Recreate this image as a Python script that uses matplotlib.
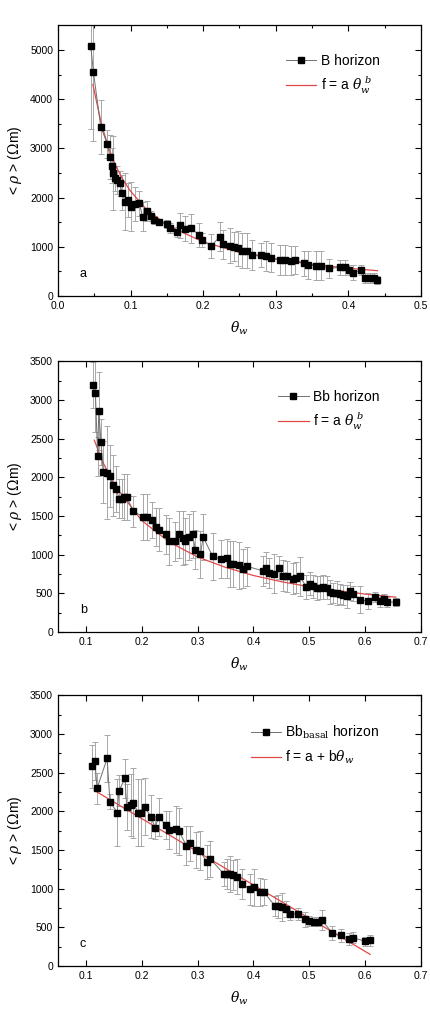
import matplotlib
matplotlib.use('Agg')
import matplotlib.pyplot as plt
import numpy as np

plt.rcParams['font.family'] = ['Liberation Sans', 'DejaVu Sans']
plt.rcParams['mathtext.fontset'] = 'dejavuserif'

# panel a: B horizon
theta_a = [0.045, 0.0487, 0.0588, 0.068, 0.0716, 0.074, 0.0762, 0.079, 0.0817, 0.0854,
           0.088, 0.0927, 0.0964, 0.101, 0.1056, 0.112, 0.1166, 0.122, 0.1276, 0.132,
           0.1387, 0.1497, 0.154, 0.164, 0.168, 0.175, 0.183, 0.1947, 0.198, 0.211,
           0.223, 0.2277, 0.237, 0.242, 0.248, 0.2534, 0.26, 0.267, 0.279, 0.287,
           0.294, 0.306, 0.313, 0.321, 0.327, 0.339, 0.345, 0.356, 0.363, 0.373,
           0.389, 0.396, 0.401, 0.407, 0.417, 0.423, 0.43, 0.436, 0.44]
rho_a = [5090, 4560, 3442, 3090, 2818, 2650, 2507, 2392, 2358, 2290,
         2100, 1917, 1951, 1816, 1870, 1884, 1612, 1734, 1626, 1545,
         1511, 1463, 1375, 1308, 1436, 1369, 1375, 1240, 1138, 1016,
         1206, 1050, 1023, 1003, 969, 921, 921, 833, 833, 813,
         779, 732, 732, 718, 732, 664, 630, 617, 617, 562,
         583, 583, 528, 474, 528, 359, 359, 359, 325]
err_a = [1700, 1420, 550, 280, 450, 350, 750, 250, 280, 250,
         350, 580, 350, 500, 350, 250, 300, 200, 100, 80,
         60, 80, 100, 100, 250, 250, 300, 250, 150, 250,
         300, 300, 350, 300, 350, 350, 350, 300, 250, 300,
         300, 300, 300, 300, 280, 250, 280, 300, 300, 200,
         150, 150, 100, 150, 100, 100, 100, 100, 80]
fit_a_x = [0.048, 0.06, 0.07, 0.08, 0.09, 0.1, 0.12, 0.15, 0.2, 0.25, 0.3, 0.35, 0.4, 0.44]
fit_a_y = [4300, 3480, 3000, 2630, 2350, 2130, 1790, 1440, 1100, 890, 750, 645, 565, 515]

# panel b: Bb horizon
theta_b = [0.112, 0.117, 0.121, 0.123, 0.127, 0.131, 0.137, 0.143, 0.148, 0.153,
           0.160, 0.164, 0.168, 0.173, 0.185, 0.203, 0.209, 0.219, 0.225, 0.231,
           0.243, 0.249, 0.259, 0.267, 0.273, 0.278, 0.285, 0.291, 0.296, 0.305,
           0.310, 0.327, 0.342, 0.352, 0.358, 0.364, 0.375, 0.382, 0.389, 0.418,
           0.422, 0.428, 0.437, 0.446, 0.453, 0.461, 0.470, 0.477, 0.483, 0.495,
           0.502, 0.507, 0.514, 0.520, 0.525, 0.531, 0.537, 0.543, 0.549, 0.555,
           0.561, 0.568, 0.573, 0.579, 0.590, 0.605, 0.617, 0.627, 0.634, 0.640,
           0.655]
rho_b = [3194, 3086, 2273, 2858, 2454, 2066, 2060, 2019, 1894, 1851,
         1722, 1722, 1743, 1743, 1562, 1485, 1485, 1451, 1356, 1322,
         1261, 1171, 1171, 1261, 1210, 1175, 1230, 1261, 1063, 1003,
         1227, 977, 943, 951, 882, 882, 861, 818, 848, 788,
         831, 762, 753, 831, 727, 719, 689, 702, 719, 581,
         624, 590, 568, 572, 581, 572, 516, 503, 503, 495,
         474, 460, 529, 495, 418, 400, 452, 400, 430, 387,
         387]
err_b = [300, 500, 250, 500, 300, 400, 600, 400, 400, 300,
         250, 250, 300, 300, 200, 300, 300, 230, 250, 280,
         250, 300, 250, 300, 350, 300, 300, 300, 250, 300,
         300, 300, 250, 250, 300, 300, 300, 250, 250, 200,
         200, 200, 250, 150, 200, 200, 200, 200, 250, 150,
         150, 150, 150, 150, 150, 150, 150, 130, 150, 130,
         130, 150, 120, 100, 170, 100, 60, 80, 60, 60,
         50]
fit_b_x = [0.115, 0.13, 0.15, 0.2, 0.25, 0.3, 0.35, 0.4, 0.45, 0.5, 0.55, 0.6, 0.655]
fit_b_y = [2480, 2200, 1910, 1440, 1160, 970, 835, 730, 650, 585, 535, 490, 450]

# panel c: Bb basal horizon
theta_c = [0.111, 0.116, 0.120, 0.138, 0.143, 0.156, 0.159, 0.170, 0.173, 0.180,
           0.185, 0.193, 0.198, 0.205, 0.216, 0.224, 0.230, 0.243, 0.248, 0.261,
           0.267, 0.280, 0.286, 0.298, 0.304, 0.316, 0.323, 0.347, 0.353, 0.358,
           0.364, 0.370, 0.380, 0.394, 0.401, 0.412, 0.419, 0.438, 0.444, 0.451,
           0.458, 0.465, 0.480, 0.493, 0.500, 0.508, 0.516, 0.522, 0.541, 0.556,
           0.572, 0.579, 0.600, 0.609]
rho_c = [2581, 2649, 2297, 2684, 2125, 1984, 2263, 2426, 2057, 2082,
         2108, 1984, 1984, 2061, 1932, 1790, 1928, 1825, 1756, 1765,
         1739, 1554, 1584, 1498, 1490, 1348, 1383, 1189, 1189, 1189,
         1176, 1155, 1060, 992, 1018, 953, 953, 781, 769, 760,
         739, 674, 674, 601, 580, 571, 571, 597, 429, 395,
         352, 365, 318, 331]
err_c = [280, 250, 200, 300, 100, 430, 200, 250, 300, 400,
         450, 430, 430, 370, 280, 150, 250, 180, 250, 300,
         300, 250, 230, 230, 250, 220, 230, 150, 200, 230,
         200, 230, 200, 200, 240, 180, 170, 130, 150, 180,
         100, 80, 80, 100, 60, 60, 60, 130, 90, 80,
         80, 70, 60, 70]
fit_c_x = [0.115, 0.609]
fit_c_y = [2270, 150]

panels = [
    (theta_a, rho_a, err_a, fit_a_x, fit_a_y, 'B horizon', r'f = a $\theta_w^{\ b}$', 'a',
     (0, 0.5), 5500, [0, 1000, 2000, 3000, 4000, 5000], 0.7069),
    (theta_b, rho_b, err_b, fit_b_x, fit_b_y, 'Bb horizon', r'f = a $\theta_w^{\ b}$', 'b',
     (0.05, 0.7), 3500, [0, 500, 1000, 1500, 2000, 2500, 3000, 3500], 0.3743),
    (theta_c, rho_c, err_c, fit_c_x, fit_c_y, r'Bb$_{\mathrm{basal}}$ horizon',
     r'f = a + b$\theta_w$', 'c', (0.05, 0.7), 3500,
     [0, 500, 1000, 1500, 2000, 2500, 3000, 3500], 0.0436),
]

fig = plt.figure(figsize=(4.31, 10.10), dpi=100)

for (x, y, e, fx, fy, lab, flab, letter, xlim, ytop, yticks, bottom) in panels:
    ax = fig.add_axes([0.1346, bottom, 0.842, 0.268])
    ax.errorbar(x, y, yerr=e, fmt='none', ecolor='#a8a8a8', elinewidth=0.7,
                capsize=2, capthick=0.7, zorder=1)
    ax.plot(x, y, '-', color='#707070', lw=0.7, marker='s', ms=5,
            mfc='black', mec='black', label=lab, zorder=3)
    ax.plot(fx, fy, '-', color='#e04848', lw=0.9, label=flab, zorder=2)
    ax.set_xlim(*xlim)
    ax.set_ylim(0, ytop)
    ax.set_yticks(yticks)
    if xlim[0] == 0:
        ax.set_xticks([0.0, 0.1, 0.2, 0.3, 0.4, 0.5])
        ax.set_xticklabels(['0.0', '0.1', '0.2', '0.3', '0.4', '0.5'])
    else:
        ax.set_xticks([0.1, 0.2, 0.3, 0.4, 0.5, 0.6, 0.7])
    ax.set_xticks(np.arange(xlim[0] + 0.05, xlim[1], 0.1), minor=True)
    ax.set_yticks(np.arange(250 if ytop == 3500 else 500, ytop, 500), minor=True)
    ax.tick_params(which='both', direction='in', top=True, right=True, labelsize=7.5)
    ax.tick_params(which='major', length=4, width=0.8)
    ax.tick_params(which='minor', length=2.5, width=0.8)
    for s in ax.spines.values():
        s.set_linewidth(0.9)
    ax.set_xlabel(r'$\theta_w$', fontsize=10, labelpad=6)
    ax.set_ylabel(r'< $\rho$ > ($\Omega$m)', fontsize=10, labelpad=4)
    ax.text(0.06, 0.07, letter, transform=ax.transAxes, fontsize=9)
    ax.legend(loc='upper right', bbox_to_anchor=(0.92, 0.94), frameon=False,
              fontsize=10, handlelength=2.2, handletextpad=0.3, labelspacing=0.5)

fig.savefig('out.png', dpi=100)
